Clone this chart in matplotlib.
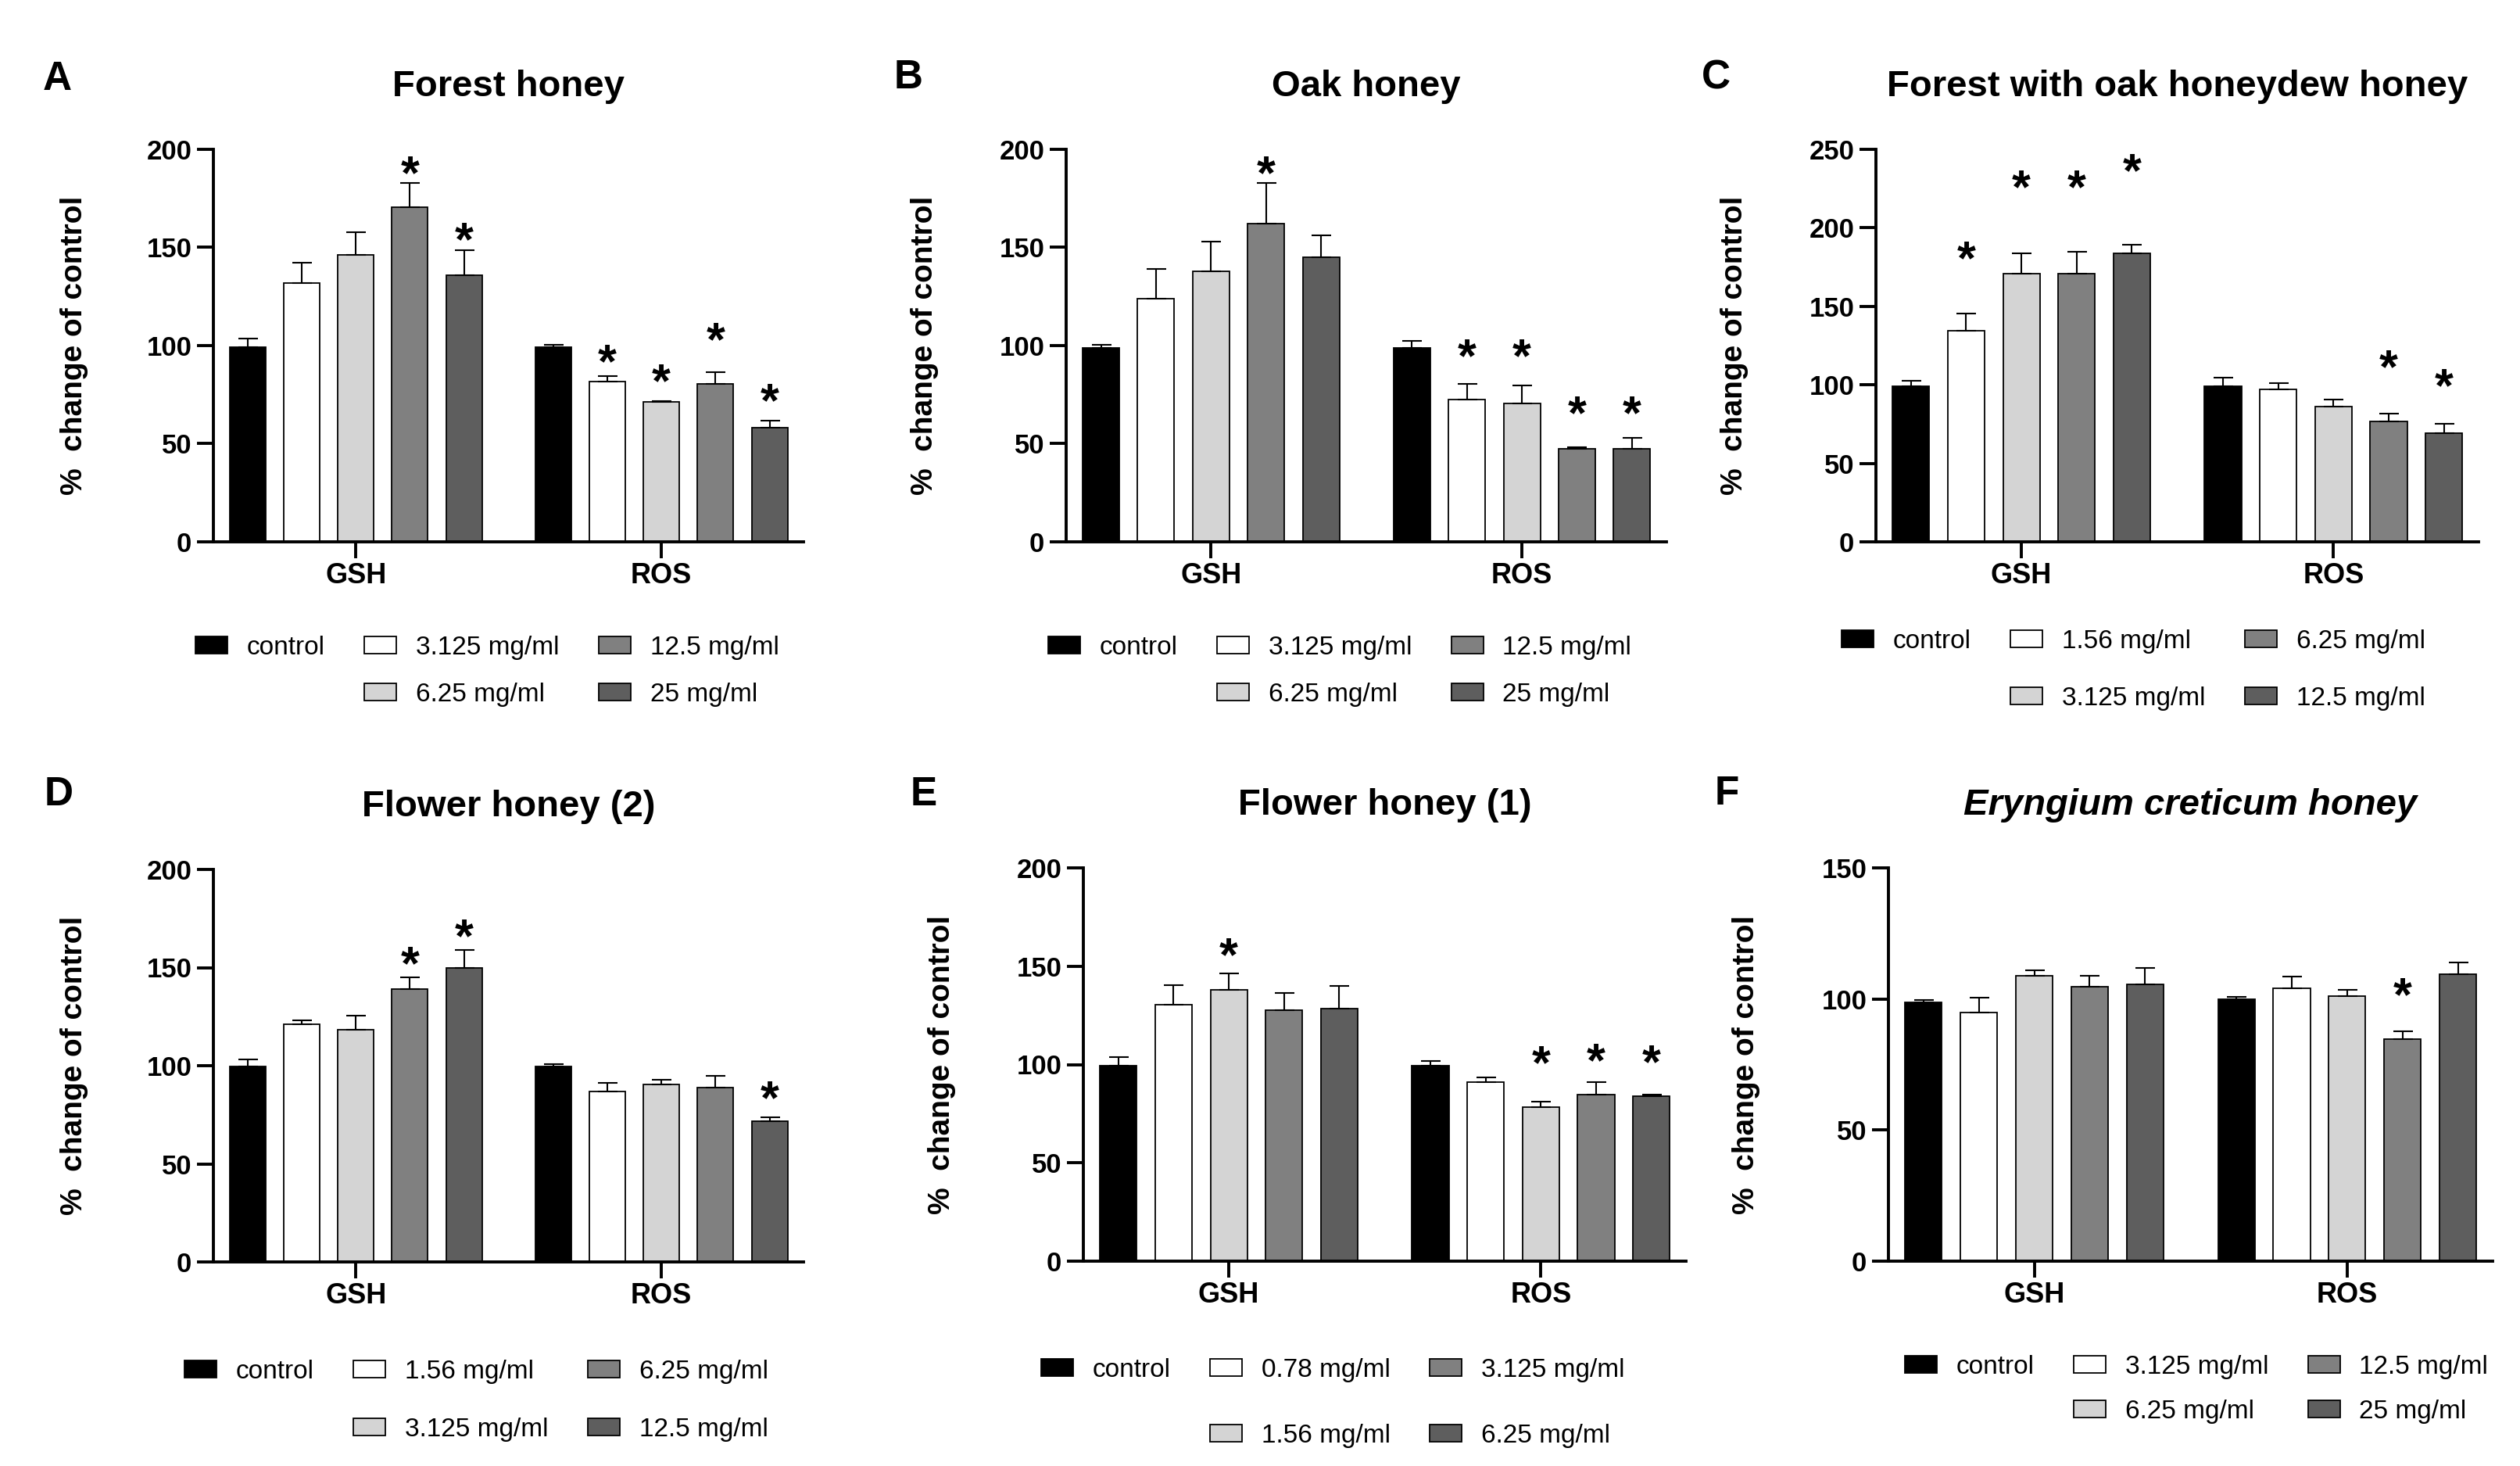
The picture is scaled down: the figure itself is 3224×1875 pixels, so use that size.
import matplotlib
matplotlib.use('Agg')
import matplotlib.pyplot as plt
from matplotlib.patches import Patch
import numpy as np

plt.rcParams['font.family'] = ['Liberation Sans', 'DejaVu Sans']
plt.rcParams['font.weight'] = 'bold'

# ---------------- data ----------------
groups = ['GSH', 'ROS']
bar_colors = ['#000000', '#ffffff', '#d4d4d4', '#808080', '#5e5e5e']

titles = ['Forest honey', 'Oak honey', 'Forest with oak honeydew honey',
          'Flower honey (2)', 'Flower honey (1)', 'Eryngium creticum honey']
letters = ['A', 'B', 'C', 'D', 'E', 'F']
y_max = [200, 200, 250, 200, 200, 150]

labels_A = ['control', '3.125 mg/ml', '6.25 mg/ml', '12.5 mg/ml', '25 mg/ml']
labels_B = ['control', '3.125 mg/ml', '6.25 mg/ml', '12.5 mg/ml', '25 mg/ml']
labels_C = ['control', '1.56 mg/ml', '3.125 mg/ml', '6.25 mg/ml', '12.5 mg/ml']
labels_D = ['control', '1.56 mg/ml', '3.125 mg/ml', '6.25 mg/ml', '12.5 mg/ml']
labels_E = ['control', '0.78 mg/ml', '1.56 mg/ml', '3.125 mg/ml', '6.25 mg/ml']
labels_F = ['control', '3.125 mg/ml', '6.25 mg/ml', '12.5 mg/ml', '25 mg/ml']

gsh_A = [99.2, 131.8, 146.2, 170.7, 136.0]
gsh_err_A = [4.3, 10.4, 11.5, 12.0, 12.5]
ros_A = [99.2, 81.7, 71.2, 80.5, 58.3]
ros_err_A = [1.3, 2.6, 0.5, 5.9, 3.5]
stars_A = [(0, 3, 191), (0, 4, 157), (1, 1, 94.8), (1, 2, 84.8), (1, 3, 106), (1, 4, 75.2)]

gsh_B = [99.0, 124.0, 138.0, 162.0, 145.0]
gsh_err_B = [1.5, 15.0, 15.0, 21.0, 11.0]
ros_B = [99.0, 72.4, 70.5, 47.6, 47.6]
ros_err_B = [3.5, 8.0, 9.0, 0.7, 5.5]
stars_B = [(0, 3, 191), (1, 1, 97.8), (1, 2, 97.8), (1, 3, 68.5), (1, 4, 68.5)]

gsh_C = [99.0, 134.5, 170.7, 170.7, 183.8]
gsh_err_C = [3.4, 11.0, 13.0, 14.0, 5.5]
ros_C = [99.0, 97.0, 86.3, 76.5, 69.2]
ros_err_C = [5.5, 4.0, 4.5, 5.0, 6.0]
stars_C = [(0, 1, 184.5), (0, 2, 229.6), (0, 3, 229.6), (0, 4, 240), (1, 3, 115), (1, 4, 103)]

gsh_D = [99.5, 121.0, 118.4, 139.0, 149.8]
gsh_err_D = [3.5, 2.0, 7.0, 6.0, 9.0]
ros_D = [99.5, 86.9, 90.3, 89.0, 71.6]
ros_err_D = [1.2, 4.5, 2.7, 6.0, 2.2]
stars_D = [(0, 3, 155), (0, 4, 169), (1, 4, 86.7)]

gsh_E = [99.6, 130.4, 138.0, 127.5, 128.5]
gsh_err_E = [4.2, 10.0, 8.4, 8.7, 11.4]
ros_E = [99.6, 91.2, 78.5, 84.8, 83.9]
ros_err_E = [2.0, 2.1, 2.7, 6.1, 0.9]
stars_E = [(0, 2, 158.8), (1, 2, 103.8), (1, 3, 105.2), (1, 4, 104.2)]

gsh_F = [98.7, 94.7, 108.7, 104.7, 105.6]
gsh_err_F = [0.9, 5.7, 2.2, 4.2, 6.2]
ros_F = [99.8, 104.2, 101.1, 84.7, 109.3]
ros_err_F = [0.9, 4.3, 2.4, 3.1, 4.5]
stars_F = [(1, 3, 104)]

panels = [
    (labels_A, gsh_A, gsh_err_A, ros_A, ros_err_A, stars_A),
    (labels_B, gsh_B, gsh_err_B, ros_B, ros_err_B, stars_B),
    (labels_C, gsh_C, gsh_err_C, ros_C, ros_err_C, stars_C),
    (labels_D, gsh_D, gsh_err_D, ros_D, ros_err_D, stars_D),
    (labels_E, gsh_E, gsh_err_E, ros_E, ros_err_E, stars_E),
    (labels_F, gsh_F, gsh_err_F, ros_F, ros_err_F, stars_F),
]

# ---------------- layout (pixels of a 3224x1875 canvas) ----------------
W, H = 3224, 1875
axes_px = [  # left, right, top, bottom
    (273, 1028, 191, 693),
    (1364, 2132, 191, 693),
    (2400, 3171, 191, 693),
    (273, 1028, 1112, 1614),
    (1386, 2157, 1110, 1613),
    (2416, 3189, 1110, 1613),
]
letter_px = [(55, 115), (1144, 113), (2177, 113), (57, 1030), (1165, 1030), (2194, 1029)]
legend_px = [(250, 836, 61), (1341, 836, 61), (2356, 828, 74),
             (236, 1762, 75), (1332, 1760, 85), (2437, 1756, 58)]

pitch = 0.177
bar_w = 0.118
LEG_FS = 24
fs_px = LEG_FS * 100 / 72.0
STAR_FS = 44

fig = plt.figure(figsize=(W / 100, H / 100), dpi=100)

for k, (labels, gsh, gsh_err, ros, ros_err, stars) in enumerate(panels):
    l, r, t, b = axes_px[k]
    ax = fig.add_axes([l / W, 1 - b / H, (r - l) / W, (b - t) / H])
    series = [gsh, ros]
    errs = [gsh_err, ros_err]
    for g in range(2):
        for i in range(5):
            x = g + (i - 2) * pitch
            ax.bar(x, series[g][i], width=bar_w, color=bar_colors[i],
                   edgecolor='black', linewidth=1.3, zorder=2)
            ax.errorbar(x, series[g][i], yerr=[[0], [errs[g][i]]], fmt='none',
                        ecolor='black', elinewidth=1.5, capsize=9, capthick=1.5,
                        zorder=3)
    for (g, i, ys) in stars:
        ax.annotate('*', xy=(g + (i - 2) * pitch, ys), xytext=(0, -0.45 * STAR_FS),
                    textcoords='offset points', ha='center', va='baseline',
                    fontsize=STAR_FS, fontweight='bold', annotation_clip=False)

    ax.set_xlim(-0.466, 1.465)
    ax.set_ylim(0, y_max[k])
    ax.set_yticks(np.arange(0, y_max[k] + 1, 50))
    ax.set_xticks([0, 1])
    ax.set_xticklabels(groups)
    for s in ['top', 'right']:
        ax.spines[s].set_visible(False)
    for s in ['left', 'bottom']:
        ax.spines[s].set_linewidth(2.8)
    ax.tick_params(axis='both', width=2.8, length=15, direction='out')
    ax.tick_params(axis='y', labelsize=25, pad=5)
    ax.tick_params(axis='x', labelsize=26, pad=4)
    ax.set_ylabel('%  change of control', fontsize=28, fontweight='bold')
    ax.yaxis.set_label_coords(-0.212, 0.5)
    ax.set_title(titles[k], fontsize=34, fontweight='bold', pad=49,
                 fontstyle='italic' if k == 5 else 'normal')

    lx, ly, lp = legend_px[k]
    handles = [Patch(facecolor=bar_colors[0], edgecolor='black', linewidth=1.3),
               Patch(facecolor='none', edgecolor='none')]
    handles += [Patch(facecolor=c, edgecolor='black', linewidth=1.3) for c in bar_colors[1:]]
    leg_labels = [labels[0], ' '] + labels[1:]
    ax.legend(handles, leg_labels, ncol=3, loc='upper left',
              bbox_to_anchor=(lx / W, 1 - (ly - 23) / H), bbox_transform=fig.transFigure,
              frameon=False, borderpad=0, borderaxespad=0,
              prop={'size': LEG_FS, 'weight': 'normal'},
              handlelength=1.23, handleheight=0.63, handletextpad=0.75,
              columnspacing=1.5, labelspacing=(lp - 32) / fs_px)

    fx, fy = letter_px[k]
    fig.text(fx / W, 1 - fy / H, letters[k], fontsize=37, fontweight='bold',
             ha='left', va='baseline')

fig.savefig('out.png', dpi=100)
